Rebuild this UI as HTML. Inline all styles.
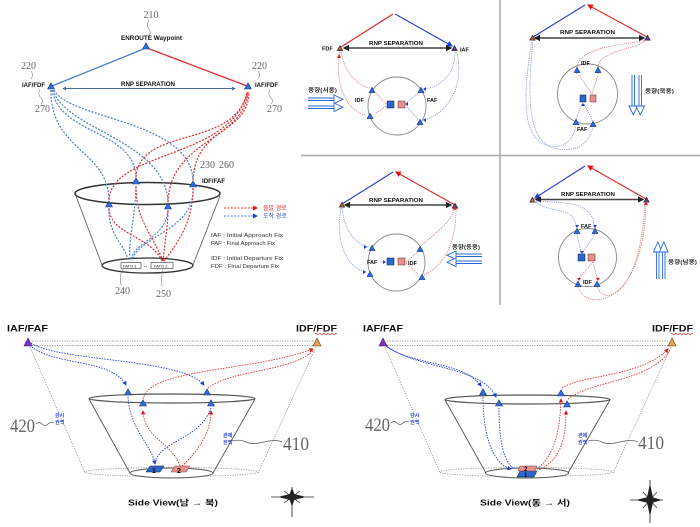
<!DOCTYPE html>
<html><head><meta charset="utf-8"><style>
html,body{margin:0;padding:0;background:#fff;}
svg{display:block;}
text{font-family:"Liberation Sans","Noto Sans CJK KR",sans-serif;}
.b{font-weight:bold;fill:#111;}
.n{font-family:"Liberation Serif",serif;fill:#666;}
.kr{font-family:"Liberation Sans","Noto Sans CJK KR",sans-serif;}
</style></head><body>
<svg width="700" height="527" viewBox="0 0 700 527" xmlns="http://www.w3.org/2000/svg">
<defs>
<marker id="ab" viewBox="0 0 10 10" refX="8" refY="5" markerWidth="5" markerHeight="5" orient="auto"><path d="M0,0L10,5L0,10z" fill="#1a3fe0"/></marker>
<marker id="ar" viewBox="0 0 10 10" refX="8" refY="5" markerWidth="5" markerHeight="5" orient="auto"><path d="M0,0L10,5L0,10z" fill="#e01818"/></marker>
<marker id="ak" viewBox="0 0 10 10" refX="8" refY="5" markerWidth="4" markerHeight="4" orient="auto-start-reverse"><path d="M0,0L10,5L0,10z" fill="#222"/></marker>
<marker id="al" viewBox="0 0 10 10" refX="8" refY="5" markerWidth="4" markerHeight="4" orient="auto-start-reverse"><path d="M0,0L10,5L0,10z" fill="#4a6fa0"/></marker>
<path id="t" d="M-3.5,3 L0,-3.2 L3.5,3Z" fill="#2d6fd8" stroke="#183c8c" stroke-width="0.6"/>
<path id="ts" d="M-3,2.6 L0,-2.8 L3,2.6Z" fill="#2d6fd8" stroke="#183c8c" stroke-width="0.6"/>
</defs>

<!-- dividers -->
<line x1="500" y1="0" x2="500" y2="305" stroke="#aaa" stroke-width="1.5"/>
<line x1="301" y1="155.5" x2="700" y2="155.5" stroke="#aaa" stroke-width="1.5"/>

<!-- ================= TOP LEFT ================= -->
<text x="151" y="18" class="n" font-size="10" text-anchor="middle">210</text>
<path d="M149,20 q-3,5 0,9 q3,4 -1,8" fill="none" stroke="#888" stroke-width="0.6"/>
<text x="121" y="40" class="b" font-size="6.5" textLength="61" lengthAdjust="spacingAndGlyphs">ENROUTE Waypoint</text>
<line x1="146" y1="48" x2="52" y2="86" stroke="#4a7fd0" stroke-width="1.3"/>
<line x1="147" y1="48" x2="247" y2="86" stroke="#e03030" stroke-width="1.3"/>
<use href="#t" x="146" y="46"/>
<use href="#t" x="51" y="86"/>
<use href="#t" x="248" y="86"/>
<text x="21" y="69" class="n" font-size="10">220</text>
<path d="M31,71 q3,4 0,8" fill="none" stroke="#888" stroke-width="0.6"/>
<text x="22" y="87" class="b" font-size="6.3" textLength="23" lengthAdjust="spacingAndGlyphs">IAF/FDF</text>
<path d="M40,90 q-3,4 1,8 q3,3 0,6" fill="none" stroke="#888" stroke-width="0.6"/>
<text x="35" y="112" class="n" font-size="10">270</text>
<text x="252" y="69" class="n" font-size="10">220</text>
<path d="M258,71 q3,4 0,8" fill="none" stroke="#888" stroke-width="0.6"/>
<text x="255" y="87" class="b" font-size="6.3" textLength="23" lengthAdjust="spacingAndGlyphs">IAF/FDF</text>
<path d="M270,90 q-3,4 1,8 q3,3 0,6" fill="none" stroke="#888" stroke-width="0.6"/>
<text x="267" y="112" class="n" font-size="10">270</text>
<text x="121" y="86" class="b" font-size="6" textLength="54" lengthAdjust="spacingAndGlyphs">RNP SEPARATION</text>
<line x1="63" y1="88.5" x2="235" y2="88.5" stroke="#4a6fa0" stroke-width="1" marker-start="url(#al)" marker-end="url(#al)"/>

<!-- cone -->
<ellipse cx="147.5" cy="193.5" rx="72.5" ry="11" fill="none" stroke="#333" stroke-width="1.5"/>
<line x1="76" y1="196" x2="102" y2="265" stroke="#555" stroke-width="0.8"/>
<line x1="220" y1="196" x2="193" y2="265" stroke="#555" stroke-width="0.8"/>
<ellipse cx="147.5" cy="265.5" rx="45.5" ry="7.5" fill="#fff" stroke="#333" stroke-width="1.3"/>

<!-- top-left dotted curves -->
<g fill="none" stroke="#4f7fcc" stroke-width="1.2" stroke-dasharray="2 1.4">
<path d="M51,90 C50,150 108,150 109,200"/>
<path d="M52,90 C60,135 134,130 136,177"/>
<path d="M53,90 C65,130 165,140 168,202"/>
<path d="M54,90 C70,120 190,120 193,180"/>
<path d="M109,208 C108,235 125,245 128,260"/>
<path d="M136,186 C135,220 128,240 130,260"/>
<path d="M168,210 C165,240 135,240 131,260"/>
<path d="M193,188 C195,230 140,235 132,260"/>
</g>
<g fill="none" stroke="#e03030" stroke-width="1.2" stroke-dasharray="2 1.4">
<path d="M162,261 C150,235 110,235 109,208"/>
<path d="M163,261 C150,230 136,220 136,186"/>
<path d="M163,261 C165,240 168,225 168,210"/>
<path d="M164,261 C180,240 193,220 193,188"/>
<path d="M109,200 C112,150 230,160 248,92"/>
<path d="M136,177 C140,125 235,150 247,92"/>
<path d="M168,202 C170,140 244,140 248,92"/>
<path d="M193,180 C196,125 248,135 249,92"/>
</g>
<use href="#t" x="136" y="181"/>
<use href="#t" x="193" y="184"/>
<use href="#t" x="109" y="204"/>
<use href="#t" x="168" y="206"/>
<text x="200" y="168" class="n" font-size="10">230</text>
<text x="219" y="168" class="n" font-size="10">260</text>
<text x="202" y="183" class="b" font-size="6.3" textLength="23" lengthAdjust="spacingAndGlyphs">IDF/FAF</text>
<!-- FATO boxes -->
<rect x="121" y="262.5" width="20" height="6" fill="#fff" stroke="#333" stroke-width="0.6"/>
<text x="123" y="267.5" font-size="4" fill="#222">FATO 1</text>
<text x="143" y="267.5" font-size="5" fill="#222">↔</text>
<rect x="151" y="262.5" width="22" height="6" fill="#fff" stroke="#333" stroke-width="0.6"/>
<text x="154" y="267.5" font-size="4" fill="#222">FATO 2</text>
<path d="M123,269 q-4,6 -2,16" fill="none" stroke="#888" stroke-width="0.6"/>
<path d="M163,269 q-2,8 -1,17" fill="none" stroke="#888" stroke-width="0.6"/>
<text x="115" y="294" class="n" font-size="10">240</text>
<text x="156" y="297" class="n" font-size="10">250</text>
<!-- legend -->
<line x1="224" y1="208" x2="257" y2="208" stroke="#e03030" stroke-dasharray="2 1.4" marker-end="url(#ar)"/>
<text x="263" y="210" class="kr" font-size="6" fill="#e03030">출발 경로</text>
<line x1="224" y1="216" x2="257" y2="216" stroke="#4f7fcc" stroke-dasharray="2 1.4" marker-end="url(#ab)"/>
<text x="263" y="218" class="kr" font-size="6" fill="#3050c0">도착 경로</text>
<g font-size="5.6" fill="#333">
<text x="211" y="237" textLength="72" lengthAdjust="spacingAndGlyphs">IAF : Initial Approach Fix</text>
<text x="211" y="245" textLength="64" lengthAdjust="spacingAndGlyphs">FAF : Final Approach Fix</text>
<text x="211" y="260" textLength="72" lengthAdjust="spacingAndGlyphs">IDF : Initial Departure Fix</text>
<text x="211" y="268" textLength="68" lengthAdjust="spacingAndGlyphs">FDF : Final Departure Fix</text>
</g>

<!-- ================= TOP MIDDLE ================= -->
<line x1="341" y1="47" x2="393" y2="14" stroke="#e03030" stroke-width="1.2"/>
<line x1="395" y1="14" x2="452" y2="46" stroke="#3040d0" stroke-width="1.2" marker-end="url(#ab)"/>
<line x1="344" y1="48" x2="451" y2="48" stroke="#444" stroke-width="1.6" marker-start="url(#ak)" marker-end="url(#ak)"/>
<text x="369" y="45" class="b" font-size="5.5" textLength="54" lengthAdjust="spacingAndGlyphs">RNP SEPARATION</text>
<text x="322" y="50.5" class="b" font-size="5.5">FDF</text>
<text x="460" y="51.5" class="b" font-size="5.5">IAF</text>
<path d="M337.5,50.5 L340,46 L342.5,50.5Z" fill="#c07830" stroke="#533"/>
<path d="M452,50.5 L454.5,46 L457,50.5Z" fill="#7a30c0" stroke="#334"/>
<circle cx="397" cy="106" r="29" fill="none" stroke="#888" stroke-width="0.9"/>
<g fill="none" stroke="#e07070" stroke-width="0.8" stroke-dasharray="1.2 1">
<path d="M341,52 C345,75 360,86 369,88"/>
<path d="M340,52 C333,92 352,113 366,115"/>
<path d="M386,104 L376,93"/>
<path d="M386,106 L375,114"/>
</g>
<g fill="none" stroke="#8090e0" stroke-width="0.8" stroke-dasharray="1.2 1">
<path d="M455,52 C455,75 440,87 424,89"/>
<path d="M457,52 C466,95 440,116 424,120"/>
<path d="M418,93 L406,103"/>
<path d="M418,119 L406,106"/>
</g>
<path d="M339,54 l-2,4 l4,0z" fill="#e02020"/>
<use href="#ts" x="372" y="90"/><use href="#ts" x="370" y="116"/>
<use href="#ts" x="421" y="90"/><use href="#ts" x="420" y="122"/>
<path d="M423,89 l3,-2 l0,4z" fill="#1a3fe0"/><path d="M423,120 l3,-2 l0,4z" fill="#1a3fe0"/>
<path d="M405,104 l3,-2 l0,4z" fill="#1a3fe0"/>
<rect x="387" y="101" width="7" height="7" fill="#2a68d0" stroke="#123" stroke-width="0.5"/>
<rect x="398" y="101" width="7" height="7" fill="#e89090" stroke="#533" stroke-width="0.5"/>
<text x="355" y="102" class="b" font-size="5.5">IDF</text>
<text x="427" y="102" class="b" font-size="5.5">FAF</text>
<text x="308" y="92" class="kr" font-size="5.5" fill="#333" font-weight="bold" textLength="29" lengthAdjust="spacingAndGlyphs">풍향(서풍)</text>
<g fill="#fff" stroke="#2a6ae0" stroke-width="0.9">
<path d="M308,98 H336 M308,100.5 H336"/>
<path d="M334,95 L343,99.2 L334,103.5Z"/>
<path d="M308,106 H336 M308,108.5 H336"/>
<path d="M334,103 L343,107.2 L334,111.5Z"/>
</g>

<!-- ================= TOP RIGHT ================= -->
<line x1="533" y1="37" x2="585" y2="5" stroke="#3040d0" stroke-width="1.2"/>
<line x1="647" y1="37" x2="588" y2="5" stroke="#e03030" stroke-width="1.2" marker-end="url(#ar)"/>
<line x1="535" y1="38" x2="644" y2="38" stroke="#444" stroke-width="1.6" marker-start="url(#ak)" marker-end="url(#ak)"/>
<text x="560" y="34" class="b" font-size="5.5" textLength="55" lengthAdjust="spacingAndGlyphs">RNP SEPARATION</text>
<path d="M530,40 L532.5,35.5 L535,40Z" fill="#c07830" stroke="#533"/>
<path d="M645,40 L647.5,35.5 L650,40Z" fill="#7a30c0" stroke="#334"/>
<circle cx="587.5" cy="94" r="30" fill="none" stroke="#888" stroke-width="0.9"/>
<g fill="none" stroke="#e07070" stroke-width="0.8" stroke-dasharray="1.2 1">
<path d="M577,67 C580,45 630,45 645,40"/>
<path d="M598,67 C600,50 635,50 645,41"/>
<path d="M592,94 L579,75"/>
<path d="M592,94 L598,75"/>
</g>
<g fill="none" stroke="#8090e0" stroke-width="0.8" stroke-dasharray="1.2 1">
<path d="M532,40 C522,100 520,150 560,146 C570,143 574,135 576,126"/>
<path d="M533,40 C526,110 528,155 572,149 C586,146 590,136 593,128"/>
<path d="M576,119 L582,104"/>
<path d="M593,121 L584,104"/>
</g>
<path d="M577,74 l-2,-3 l4,0z" fill="#e02020"/><path d="M598,74 l-2,-3 l4,0z" fill="#e02020"/>
<path d="M583,103 l-2,3 l4,0z" fill="#1a3fe0"/>
<use href="#ts" x="577" y="70"/><use href="#ts" x="598" y="70"/>
<use href="#ts" x="576" y="122"/><use href="#ts" x="593" y="124"/>
<rect x="580" y="95" width="6" height="7" fill="#2a68d0" stroke="#123" stroke-width="0.5"/>
<rect x="590" y="95" width="6" height="7" fill="#e89090" stroke="#533" stroke-width="0.5"/>
<text x="581" y="65" class="b" font-size="5.5">IDF</text>
<text x="577" y="131" class="b" font-size="5.5">FAF</text>
<g fill="#fff" stroke="#2a6ae0" stroke-width="0.9">
<path d="M632,75 V108 M634.5,75 V108"/>
<path d="M629,106 L633.3,115 L637.5,106Z"/>
<path d="M639,75 V108 M641.5,75 V108"/>
<path d="M636,106 L640.3,115 L644.5,106Z"/>
</g>
<text x="645" y="93" class="kr" font-size="5.5" fill="#333" font-weight="bold" textLength="29" lengthAdjust="spacingAndGlyphs">풍향(북풍)</text>

<!-- ================= MIDDLE MIDDLE ================= -->
<line x1="342" y1="204" x2="393" y2="172" stroke="#3040d0" stroke-width="1.2"/>
<line x1="455" y1="205" x2="396" y2="172" stroke="#e03030" stroke-width="1.2" marker-end="url(#ar)"/>
<line x1="345" y1="205" x2="451" y2="205" stroke="#444" stroke-width="1.6" marker-start="url(#ak)" marker-end="url(#ak)"/>
<text x="369" y="202" class="b" font-size="5.5" textLength="54" lengthAdjust="spacingAndGlyphs">RNP SEPARATION</text>
<path d="M339.5,207 L342,202.5 L344.5,207Z" fill="#c07830" stroke="#533"/>
<path d="M452.5,208 L455,203.5 L457.5,208Z" fill="#7a30c0" stroke="#334"/>
<circle cx="396.5" cy="262.5" r="28.5" fill="none" stroke="#888" stroke-width="0.9"/>
<g fill="none" stroke="#8090e0" stroke-width="0.8" stroke-dasharray="1.2 1">
<path d="M342,208 C345,235 358,244 368,247"/>
<path d="M341,208 C334,250 352,270 366,272"/>
<path d="M380,262 L385,262"/>
</g>
<g fill="none" stroke="#e07070" stroke-width="0.8" stroke-dasharray="1.2 1">
<path d="M421,246 C432,235 450,225 454,209"/>
<path d="M424,275 C446,265 456,240 456,209"/>
<path d="M406,262 L418,252"/>
<path d="M406,263 L418,274"/>
</g>
<path d="M453,210 l1.5,-4 l2.5,3.5z" fill="#e02020"/>
<path d="M367,247 l-3,-2 l0,4z" fill="#1a3fe0"/><path d="M366,272 l-3,-2 l0,4z" fill="#1a3fe0"/>
<path d="M386,262 l-3,-2 l0,4z" fill="#1a3fe0"/>
<use href="#ts" x="372" y="248"/><use href="#ts" x="370" y="274"/>
<use href="#ts" x="420" y="249"/><use href="#ts" x="422" y="277"/>
<rect x="387" y="258" width="7" height="7" fill="#2a68d0" stroke="#123" stroke-width="0.5"/>
<rect x="398" y="258" width="7" height="7" fill="#e89090" stroke="#533" stroke-width="0.5"/>
<text x="367" y="264" class="b" font-size="5.5">FAF</text>
<text x="408" y="265" class="b" font-size="5.5">IDF</text>
<text x="452" y="249" class="kr" font-size="5.5" fill="#333" font-weight="bold" textLength="28" lengthAdjust="spacingAndGlyphs">풍향(동풍)</text>
<g fill="#fff" stroke="#2a6ae0" stroke-width="0.9">
<path d="M454,254 H482 M454,256.5 H482"/>
<path d="M456,251 L447,255.2 L456,259.5Z"/>
<path d="M454,261 H482 M454,263.5 H482"/>
<path d="M456,258 L447,262.2 L456,266.5Z"/>
</g>

<!-- ================= MIDDLE RIGHT ================= -->
<line x1="585" y1="166" x2="535" y2="198" stroke="#3040d0" stroke-width="1.2" marker-end="url(#ab)"/>
<line x1="646" y1="199" x2="588" y2="166" stroke="#e03030" stroke-width="1.2" marker-end="url(#ar)"/>
<line x1="536" y1="199.5" x2="643" y2="199.5" stroke="#444" stroke-width="1.6" marker-start="url(#ak)" marker-end="url(#ak)"/>
<text x="561" y="196" class="b" font-size="5.5" textLength="54" lengthAdjust="spacingAndGlyphs">RNP SEPARATION</text>
<path d="M530,202 L532.5,197.5 L535,202Z" fill="#c07830" stroke="#533"/>
<path d="M644,202 L646.5,197.5 L649,202Z" fill="#7a30c0" stroke="#334"/>
<circle cx="587.5" cy="257.5" r="29" fill="none" stroke="#888" stroke-width="0.9"/>
<g fill="none" stroke="#8090e0" stroke-width="0.8" stroke-dasharray="1.2 1">
<path d="M534,201 C552,215 572,205 576,225"/>
<path d="M534,201 C560,203 592,200 594,225"/>
<path d="M577,234 L581,252"/>
<path d="M595,234 L583,252"/>
</g>
<g fill="none" stroke="#e07070" stroke-width="0.8" stroke-dasharray="1.2 1">
<path d="M593,262 L579,278"/>
<path d="M593,262 L597,278"/>
<path d="M578,287 C585,312 644,308 646,203"/>
<path d="M597,287 C604,306 640,298 645,203"/>
</g>
<path d="M575,225 l2,3 l2,-3z" fill="#1a3fe0"/><path d="M593,225 l2,3 l2,-3z" fill="#1a3fe0"/>
<path d="M580,251 l2,3 l2,-3z" fill="#1a3fe0"/>
<path d="M577,278 l2,3 l2,-3z" fill="#e02020"/><path d="M596,278 l2,3 l2,-3z" fill="#e02020"/>
<path d="M644,205 l2,-4 l2,4z" fill="#e02020"/>
<use href="#ts" x="577" y="231"/><use href="#ts" x="595" y="231"/>
<use href="#ts" x="578" y="284"/><use href="#ts" x="597" y="284"/>
<rect x="578" y="254" width="7" height="7" fill="#2a68d0" stroke="#123" stroke-width="0.5"/>
<rect x="588" y="254" width="7" height="7" fill="#e89090" stroke="#533" stroke-width="0.5"/>
<text x="581" y="228" class="b" font-size="5.5">FAF</text>
<text x="583" y="284" class="b" font-size="5.5">IDF</text>
<g fill="#fff" stroke="#2a6ae0" stroke-width="0.9">
<path d="M656.5,250 V279 M659,250 V279"/>
<path d="M653.5,252 L657.8,242 L662,252Z"/>
<path d="M662.5,250 V279 M665,250 V279"/>
<path d="M659.5,252 L663.8,242 L668,252Z"/>
</g>
<text x="668" y="264" class="kr" font-size="5.5" fill="#333" font-weight="bold" textLength="29" lengthAdjust="spacingAndGlyphs">풍향(남풍)</text>

<!-- ================= BOTTOM LEFT ================= -->
<text x="7" y="331.5" class="b" font-size="9.5" textLength="41" lengthAdjust="spacingAndGlyphs">IAF/FAF</text>
<text x="296" y="331.5" class="b" font-size="9.5" textLength="41" lengthAdjust="spacingAndGlyphs">IDF/FDF</text>
<path d="M315,334 q1,-1 2,0 t2,0 t2,0 t2,0 t2,0 t2,0 t2,0 t2,0 t2,0 t2,0 t2,0" fill="none" stroke="#e03030" stroke-width="0.6"/>
<g fill="none" stroke="#999" stroke-width="0.9" stroke-dasharray="1.2 1.3">
<line x1="32" y1="341" x2="314" y2="341"/>
<line x1="32" y1="345.5" x2="314" y2="345.5"/>
<line x1="29" y1="345" x2="85" y2="473"/>
<line x1="317" y1="345" x2="258" y2="473"/>
<ellipse cx="171.5" cy="472" rx="86.5" ry="4.5"/>
</g>
<ellipse cx="172" cy="398.5" rx="83" ry="4.5" fill="none" stroke="#555" stroke-width="1.2"/>
<line x1="89" y1="399" x2="130" y2="473" stroke="#555" stroke-width="0.9"/>
<line x1="255" y1="399" x2="213" y2="473" stroke="#555" stroke-width="0.9"/>
<ellipse cx="171.5" cy="473" rx="41.5" ry="5" fill="#fff" stroke="#555" stroke-width="1"/>
<g fill="none" stroke="#2a3fe0" stroke-width="0.9" stroke-dasharray="1.5 1.2">
<path d="M30,345 C50,366 112,358 126,385" marker-end="url(#ab)"/>
<path d="M31,343 C60,362 182,358 204,385" marker-end="url(#ab)"/>
<path d="M128,397 C130,430 152,445 155,464" marker-end="url(#ab)"/>
<path d="M211,408 C200,440 160,440 155,463"/>
</g>
<g fill="none" stroke="#e03030" stroke-width="0.9" stroke-dasharray="1.5 1.2">
<path d="M180,466 C170,440 145,440 143,411" marker-end="url(#ar)"/>
<path d="M182,466 C200,450 211,430 211,411" marker-end="url(#ar)"/>
<path d="M143,399 C150,368 250,372 313,349" marker-end="url(#ar)"/>
<path d="M208,388 C230,370 292,372 314,350"/>
</g>
<use href="#t" x="128" y="392"/><use href="#t" x="207" y="392"/>
<use href="#t" x="143" y="403"/><use href="#t" x="211" y="403"/>
<path d="M24,346 L28,338 L32,346Z" fill="#8030c8" stroke="#402060" stroke-width="0.6"/>
<path d="M313,346 L317,338 L321,346Z" fill="#eaa050" stroke="#604020" stroke-width="0.6"/>
<path d="M146,472 L160,472 L164,466 L150,466Z" fill="#2a68d0" stroke="#123" stroke-width="0.5"/>
<text x="152" y="473" font-size="7" font-weight="bold" fill="#111">1</text>
<path d="M171,472 L186,472 L190,466 L175,466Z" fill="#e89090" stroke="#744" stroke-width="0.5"/>
<text x="177" y="473" font-size="7" font-weight="bold" fill="#111">2</text>
<text x="10" y="432" class="n" font-size="19" fill="#333" textLength="25" lengthAdjust="spacingAndGlyphs">420</text>
<path d="M36,424 q3,-3 6,0 t6,0 t6,-1" fill="none" stroke="#555" stroke-width="0.7"/>
<text x="55" y="417" class="kr" font-size="5" fill="#2a3fe0" font-weight="bold">감시</text>
<text x="55" y="424" class="kr" font-size="5" fill="#2a3fe0" font-weight="bold">권역</text>
<text x="223" y="437" class="kr" font-size="5" fill="#2a3fe0" font-weight="bold">관제</text>
<text x="223" y="444" class="kr" font-size="5" fill="#2a3fe0" font-weight="bold">권역</text>
<path d="M232,441 q8,-2 14,1 t18,0 t18,0" fill="none" stroke="#555" stroke-width="0.7"/>
<text x="283" y="450" class="n" font-size="19" fill="#333" textLength="26" lengthAdjust="spacingAndGlyphs">410</text>
<text x="128" y="505.5" class="b" font-size="8.2" textLength="90" lengthAdjust="spacingAndGlyphs">Side View(남 → 북)</text>
<g stroke="#222" fill="#222">
<line x1="292" y1="487" x2="292" y2="517" stroke-width="0.8"/>
<line x1="271" y1="497" x2="314" y2="497" stroke-width="0.8"/>
<line x1="284" y1="491" x2="300" y2="503" stroke-width="0.6"/>
<line x1="300" y1="491" x2="284" y2="503" stroke-width="0.6"/>
<path d="M292,489 L295,497 L292,505 L289,497Z"/>
<path d="M280,497 L292,494 L304,497 L292,500Z"/>
</g>

<!-- ================= BOTTOM RIGHT ================= -->
<text x="363" y="331.5" class="b" font-size="9.5" textLength="40" lengthAdjust="spacingAndGlyphs">IAF/FAF</text>
<text x="652" y="331.5" class="b" font-size="9.5" textLength="41" lengthAdjust="spacingAndGlyphs">IDF/FDF</text>
<path d="M671,334 q1,-1 2,0 t2,0 t2,0 t2,0 t2,0 t2,0 t2,0 t2,0 t2,0 t2,0 t2,0" fill="none" stroke="#e03030" stroke-width="0.6"/>
<g fill="none" stroke="#999" stroke-width="0.9" stroke-dasharray="1.2 1.3">
<line x1="387" y1="341" x2="669" y2="341"/>
<line x1="387" y1="345.5" x2="669" y2="345.5"/>
<line x1="384" y1="345" x2="440" y2="473"/>
<line x1="672" y1="345" x2="613" y2="473"/>
<ellipse cx="526.5" cy="472" rx="86.5" ry="4.5"/>
</g>
<ellipse cx="527.5" cy="399.5" rx="82.5" ry="4.5" fill="none" stroke="#555" stroke-width="1.2"/>
<line x1="445" y1="400" x2="486" y2="473" stroke="#555" stroke-width="0.9"/>
<line x1="610" y1="400" x2="568" y2="473" stroke="#555" stroke-width="0.9"/>
<ellipse cx="527" cy="473" rx="41.5" ry="5" fill="#fff" stroke="#555" stroke-width="1"/>
<g fill="none" stroke="#2a3fe0" stroke-width="0.9" stroke-dasharray="1.5 1.2">
<path d="M385,345 C410,366 462,360 481,386" marker-end="url(#ab)"/>
<path d="M386,346 C420,370 482,366 496,397" marker-end="url(#ab)"/>
<path d="M483,397 C483,440 495,465 511,469" marker-end="url(#ab)"/>
<path d="M499,408 C499,445 505,462 513,468"/>
</g>
<g fill="none" stroke="#e03030" stroke-width="0.9" stroke-dasharray="1.5 1.2">
<path d="M537,469 C555,455 560,430 561,399" marker-end="url(#ar)"/>
<path d="M539,470 C560,460 566,440 566,411" marker-end="url(#ar)"/>
<path d="M562,388 C580,375 642,377 668,349" marker-end="url(#ar)"/>
<path d="M568,399 C592,380 650,382 670,350"/>
</g>
<use href="#t" x="483" y="392"/><use href="#t" x="499" y="403"/>
<use href="#t" x="561" y="393"/><use href="#t" x="567" y="404"/>
<path d="M379,346 L383,338 L387,346Z" fill="#8030c8" stroke="#402060" stroke-width="0.6"/>
<path d="M668,346 L672,338 L676,346Z" fill="#eaa050" stroke="#604020" stroke-width="0.6"/>
<path d="M517,477 L534,477 L537,471 L520,471Z" fill="#2a68d0" stroke="#123" stroke-width="0.5"/>
<path d="M518,471 L535,471 L537,466 L520,466Z" fill="#e89090" stroke="#744" stroke-width="0.5"/>
<text x="524" y="477" font-size="6" font-weight="bold" fill="#111">1</text>
<text x="524" y="471" font-size="6" font-weight="bold" fill="#111">2</text>
<text x="365" y="431" class="n" font-size="19" fill="#333" textLength="25" lengthAdjust="spacingAndGlyphs">420</text>
<path d="M391,423 q3,-3 6,0 t6,0 t6,-1" fill="none" stroke="#555" stroke-width="0.7"/>
<text x="410" y="417" class="kr" font-size="5" fill="#2a3fe0" font-weight="bold">감시</text>
<text x="410" y="424" class="kr" font-size="5" fill="#2a3fe0" font-weight="bold">권역</text>
<text x="578" y="437" class="kr" font-size="5" fill="#2a3fe0" font-weight="bold">관제</text>
<text x="578" y="444" class="kr" font-size="5" fill="#2a3fe0" font-weight="bold">권역</text>
<path d="M588,441 q8,-2 14,1 t18,0 t18,0" fill="none" stroke="#555" stroke-width="0.7"/>
<text x="638" y="449" class="n" font-size="19" fill="#333" textLength="26" lengthAdjust="spacingAndGlyphs">410</text>
<text x="480" y="505.5" class="b" font-size="8.2" textLength="90" lengthAdjust="spacingAndGlyphs">Side View(동 → 서)</text>
<g stroke="#222" fill="#222">
<line x1="650" y1="480" x2="650" y2="523" stroke-width="0.8"/>
<line x1="630" y1="500" x2="663" y2="500" stroke-width="0.8"/>
<line x1="643" y1="492" x2="657" y2="508" stroke-width="0.6"/>
<line x1="657" y1="492" x2="643" y2="508" stroke-width="0.6"/>
<path d="M650,486 L653,500 L650,514 L647,500Z"/>
<path d="M638,500 L650,497 L660,500 L650,503Z"/>
</g>
</svg>
</body></html>
